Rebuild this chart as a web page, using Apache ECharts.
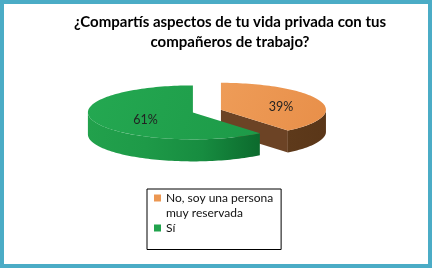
<!DOCTYPE html>
<html>
<head>
<meta charset="utf-8">
<script src="https://cdn.jsdelivr.net/npm/echarts@6/dist/echarts.min.js"></script>
<style>
  html, body { margin: 0; padding: 0; background: #fff; }
  #chart { width: 432px; height: 269px; }
</style>
</head>
<body>
<div id="chart"></div>
<script>
// ---- data ----
const titleText = '¿Compartís aspectos de tu vida privada con tus\ncompañeros de trabajo?';
const categories = ['No, soy una persona\nmuy reservada', 'Sí'];
const values = [39, 61];
const topColors = ['#EC9752', '#21A34D'];

// ---- styling (not data) ----
const sideStyles = [
  { side: ['#5E3A1B', '#5A3618'], face: '#6C4325', top: ['#EE9C58', '#E88F49'] },
  { side: ['#22A14C', '#1E9A48', '#178C40', '#0C6A2D'], face: '#157A36', top: ['#24A851', '#1D9A48'] }
];
const FONT = 'Lato, "Open Sans", sans-serif';

function renderSlice(idx, params, api) {
  const W = api.getWidth(), H = api.getHeight();
  const cx = W * 0.479, cy = H * 0.413;
  const rx = 105, ry = 27, depth = 22, explode = 0.142;
  const total = values.reduce((a, b) => a + b, 0);
  let start = 0;
  for (let i = 0; i < idx; i++) start += values[i];
  const v = api.value(0);
  const a0 = start / total * Math.PI * 2;
  const a1 = (start + v) / total * Math.PI * 2;
  const mid = (a0 + a1) / 2;
  const ox = cx + rx * explode * Math.sin(mid);
  const oy = cy - ry * explode * Math.cos(mid);
  const P = (a, d) => [ox + rx * Math.sin(a), oy - ry * Math.cos(a) + (d || 0)];
  const arc = (from, to, d) => {
    const n = Math.max(2, Math.ceil(Math.abs(to - from) / 0.03));
    const pts = [];
    for (let k = 0; k <= n; k++) pts.push(P(from + (to - from) * k / n, d));
    return pts;
  };
  const st = sideStyles[idx];
  const children = [];
  // outer side wall (front half only)
  const s0 = Math.max(a0, Math.PI / 2), s1 = Math.min(a1, Math.PI * 1.5);
  if (s1 > s0) {
    const pts = arc(s0, s1, 0).concat(arc(s1, s0, depth));
    const stops = st.side.map((c, k) => ({ offset: k / (st.side.length - 1), color: c }));
    children.push({
      type: 'polygon', shape: { points: pts },
      style: { fill: { type: 'linear', x: 0, y: 0, x2: 1, y2: 0, colorStops: stops }, stroke: null }
    });
  }
  // radial faces
  if (Math.sin(a1) > 0.01) {
    children.push({
      type: 'polygon',
      shape: { points: [[ox, oy], P(a1, 0), P(a1, depth), [ox, oy + depth]] },
      style: { fill: st.face, stroke: null }
    });
  }
  if (Math.sin(a0) < -0.01) {
    children.push({
      type: 'polygon',
      shape: { points: [[ox, oy], P(a0, 0), P(a0, depth), [ox, oy + depth]] },
      style: { fill: st.face, stroke: null }
    });
  }
  // top face
  const topPts = [[ox, oy]].concat(arc(a0, a1, 0));
  children.push({
    type: 'polygon', shape: { points: topPts },
    style: {
      fill: { type: 'linear', x: 0, y: 0, x2: 1, y2: 1,
        colorStops: [{ offset: 0, color: st.top[0] }, { offset: 1, color: st.top[1] }] },
      stroke: null
    }
  });
  // label
  const half = (a1 - a0) / 2;
  const centroid = 2 * Math.sin(half) / (3 * half);
  const f = 0.25 + 0.7 * centroid;
  children.push({
    type: 'text',
    style: {
      text: v + '%',
      x: ox + rx * f * Math.sin(mid),
      y: oy - ry * f * Math.cos(mid) + 3,
      align: 'center', verticalAlign: 'middle',
      textAlign: 'center', textVerticalAlign: 'middle',
      font: '12.5px ' + FONT, fill: '#222'
    }
  });
  return { type: 'group', children };
}

const chart = echarts.init(document.getElementById('chart'), null, { renderer: 'canvas' });
chart.setOption({
  backgroundColor: '#fff',
  animation: false,
  title: {
    text: titleText,
    left: 225, top: 7, textAlign: 'center',
    textStyle: { fontFamily: FONT, fontWeight: 'bold', fontSize: 15, color: '#000', lineHeight: 20 }
  },
  legend: {
    orient: 'vertical',
    left: 147, top: 189,
    padding: [2, 8, 10, 7],
    itemGap: -4.5,
    itemWidth: 7, itemHeight: 23,
    borderColor: '#000', borderWidth: 1,
    selectedMode: false,
    data: [
      { name: categories[0], icon: 'path://M0 0h7v7H0z M0 23h7' },
      { name: categories[1], icon: 'path://M0 8h7v7H0z M0 0h7 M0 23h7' }
    ],
    textStyle: { fontFamily: FONT, fontSize: 12, color: '#111', lineHeight: 15 }
  },
  graphic: [{
    type: 'rect', z: 100,
    shape: { x: 2, y: 2, width: 428, height: 264 },
    style: { fill: 'none', stroke: '#4BACC6', lineWidth: 4 }
  }],
  series: categories.map((name, i) => ({
    type: 'custom',
    name,
    coordinateSystem: 'none',
    silent: true,
    itemStyle: { color: topColors[i] },
    data: [[values[i]]],
    renderItem: (params, api) => renderSlice(i, params, api)
  }))
});
</script>
</body>
</html>
